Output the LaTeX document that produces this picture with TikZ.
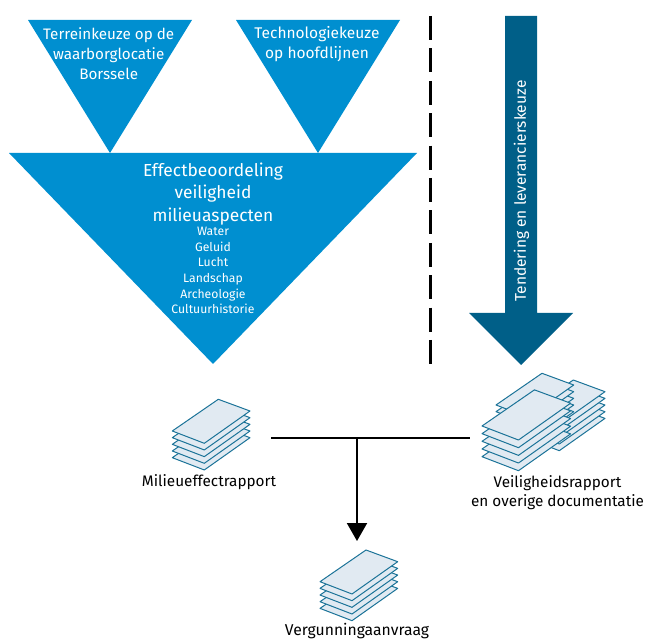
\documentclass[tikz,border=0pt]{standalone}
\usepackage{fontspec}
\setmainfont{Fira Sans}[Scale=1.0]
\definecolor{tblue}{HTML}{008FD0}
\definecolor{darkb}{HTML}{005F88}
\definecolor{sheetf}{HTML}{E1EAF2}
\definecolor{sheetd}{HTML}{1B7398}
\usetikzlibrary{calc,arrows.meta}
\tikzset{
  tri/.style={fill=tblue,draw=none},
  sheet/.style={fill=sheetf,draw=sheetd,line width=1pt,line join=round},
  wlabel/.style={text=white,align=center,inner sep=0pt,anchor=center},
  klabel/.style={text=black,align=center,inner sep=0pt,anchor=center,font=\fontsize{15.3}{19.5}\selectfont},
  conn/.style={line width=2pt,black}
}
% #1 left x, #2 left y, #3 scale, #4 sheets-1, #5 offset
\newcommand{\paperstack}[5]{%
  \foreach \i in {#4,...,0}{
    \draw[sheet] ($(#1,#2)+(0,\i*#5)$) -- ++(32*#3,12.3*#3) -- ++(45.7*#3,-32.3*#3) -- ++(-31.7*#3,-11.7*#3) -- cycle;
  }}
\begin{document}
\begin{tikzpicture}[x=1pt,y=-1pt]
\useasboundingbox (0,0) rectangle (646,639);
% triangles
\fill[tri] (28,20) -- (192,20) -- (110,153) -- cycle;
\fill[tri] (236,20) -- (400,20) -- (318,153) -- cycle;
\fill[tri] (9,153) -- (417,153) -- (213,364) -- cycle;
\node[wlabel,font=\fontsize{15.2}{20}\selectfont] (terrein) at (108.7,53.5) {Terreinkeuze op de\\waarborglocatie\\Borssele};
\node[wlabel,font=\fontsize{15.5}{20}\selectfont] (techno) at (317,44) {Technologiekeuze\\op hoofdlijnen};
\node[wlabel,font=\fontsize{17.4}{22.5}\selectfont] (effect) at (213,194) {Effectbeoordeling\\veiligheid\\milieuaspecten};
\node[wlabel,font=\fontsize{12.2}{15.7}\selectfont] (aspects) at (213,270.5) {Water\\Geluid\\Lucht\\Landschap\\Archeologie\\Cultuurhistorie};
% dashed divider
\coordinate (dtop) at (430.3,16);
\coordinate (dbot) at (430.3,364);
\draw[line width=2.4pt,black,dash pattern=on 24pt off 8.4pt] (dtop) -- (dbot);
% big arrow
\fill[darkb] (505,16) -- (537,16) -- (537,313) -- (573,313) -- (521,365) -- (469,313) -- (505,313) -- cycle;
\node[wlabel,rotate=90,font=\fontsize{15.5}{16}\selectfont] (tender) at (521.5,191) {Tendering en leverancierskeuze};
% stacks
\paperstack{172.3}{431}{1}{4}{6.67}
\paperstack{527.3}{411.7}{1}{4}{6.67}
\paperstack{496}{405}{1}{4}{6.67}
\paperstack{482}{426}{1.14}{4}{7.67}
\paperstack{320}{581.7}{1}{4}{6.67}
% connectors
\coordinate (mer) at (271,438);
\coordinate (vr) at (470,438);
\coordinate (junction) at (357,438);
\coordinate (ver) at (357,541);
\draw[conn] (mer) -- (vr);
\draw[conn,-{Triangle[length=18pt,width=20pt]}] (junction) -- (ver);
% labels
\node[klabel] (l1) at (209,482) {Milieueffectrapport};
\node[klabel] (l2) at (557.5,492.5) {Veiligheidsrapport\\en overige documentatie};
\node[klabel,font=\fontsize{15.7}{19.5}\selectfont] (l3) at (357,631.5) {Vergunningaanvraag};
\end{tikzpicture}
\end{document}
